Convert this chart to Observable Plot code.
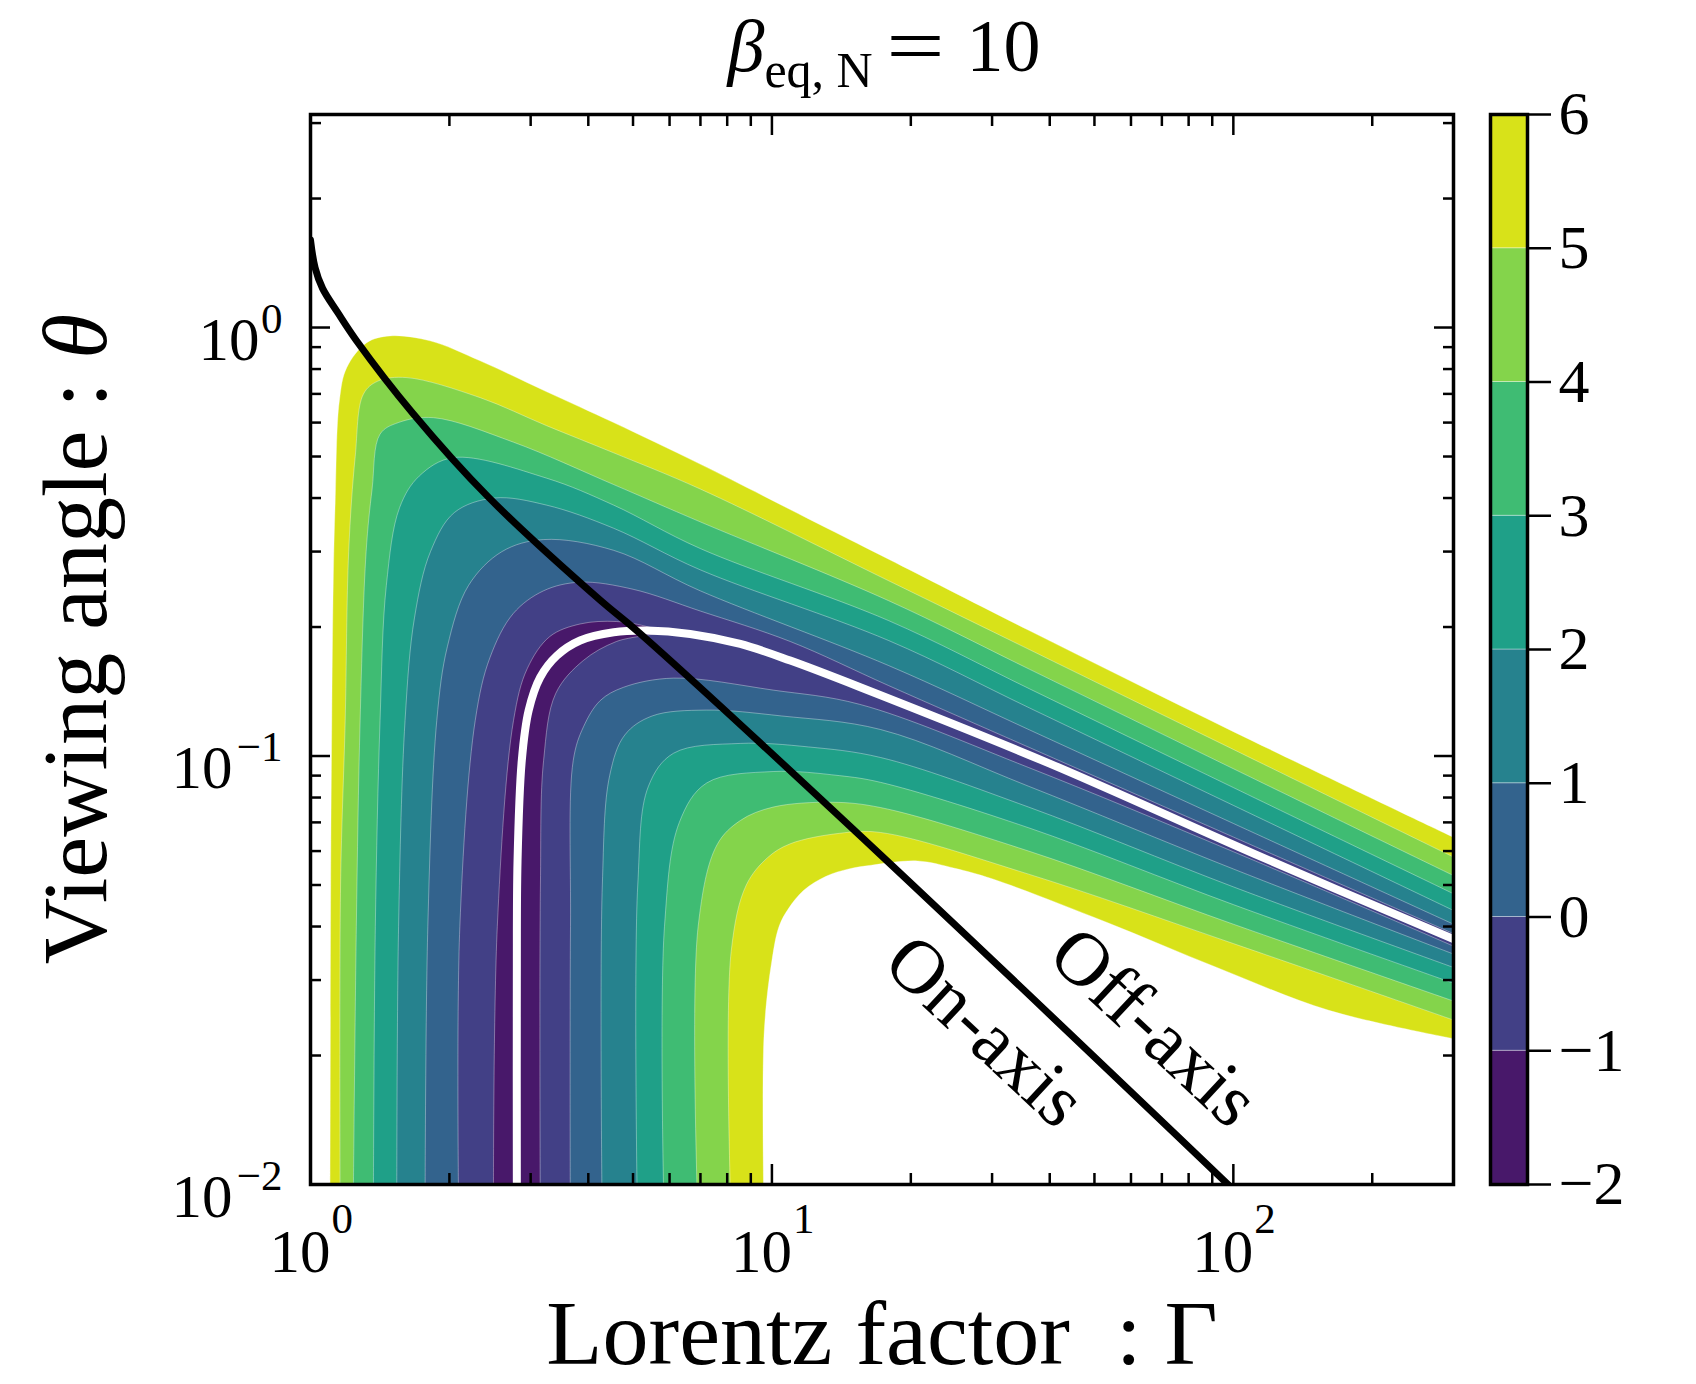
<!DOCTYPE html>
<html>
<head>
<meta charset="utf-8">
<script src="https://cdn.jsdelivr.net/npm/d3@7"></script>
<script src="https://cdn.jsdelivr.net/npm/@observablehq/plot@0.6"></script>
<style>
  body { margin: 0; background: #fff; }
  #wrap { position: relative; width: 1696px; height: 1384px; overflow: hidden;
          font-family: "Liberation Serif", "Times New Roman", serif; color: #000; }
  #wrap svg { position: absolute; top: 0; }
  .lbl { position: absolute; white-space: nowrap; line-height: 1.15; }
</style>
</head>
<body>
<div id="wrap"></div>
<script>
// ---- contour boundaries, [Lorentz factor Γ, viewing angle θ] ----
// outer (upper) branch of each level, from the foot at θ = 0.01 to Γ = 300
const upper6 = [[1.103,0.01],[1.106,0.05],[1.112,0.12],[1.12,0.25],[1.131,0.39],[1.155,0.675],[1.198,0.806],[1.324,0.922],[1.488,0.956],[1.816,0.931],[2.332,0.836],[3.25,0.708],[4.54,0.60],[6.99,0.48],[13.1,0.341],[17.9,0.288],[36.2,0.196],[100,0.114],[300,0.0646]];
const upper5 = [[1.159,0.01],[1.162,0.05],[1.189,0.121],[1.21,0.3],[1.25,0.5],[1.302,0.699],[1.40,0.75],[1.618,0.764],[2.332,0.686],[3.25,0.59],[4.54,0.51],[6.99,0.42],[17.9,0.2565],[36.2,0.177],[100,0.1036],[300,0.0581]];
const upper4 = [[1.239,0.01],[1.257,0.04],[1.281,0.121],[1.32,0.3],[1.36,0.42],[1.415,0.564],[1.55,0.60],[1.847,0.616],[2.754,0.54],[4.54,0.43],[6.99,0.352],[17.9,0.2304],[36.2,0.1593],[100,0.0934],[300,0.0526]];
const upper3 = [[1.369,0.01],[1.382,0.04],[1.415,0.121],[1.46,0.25],[1.56,0.38],[1.72,0.45],[2.04,0.497],[3.25,0.445],[4.54,0.385],[6.99,0.305],[17.9,0.207],[36.2,0.1434],[100,0.0844],[300,0.0477]];
const upper2 = [[1.538,0.01],[1.552,0.04],[1.603,0.121],[1.68,0.21],[1.82,0.30],[2.05,0.37],[2.5,0.40],[3.25,0.385],[4.54,0.34],[6.99,0.272],[17.9,0.186],[36.2,0.1294],[100,0.0767],[300,0.0436]];
const upper1 = [[1.772,0.01],[1.796,0.04],[1.878,0.121],[1.98,0.18],[2.2,0.25],[2.6,0.30],[3.2,0.32],[4.54,0.302],[6.99,0.243],[17.9,0.1626],[36.2,0.115],[100,0.0696],[300,0.0405]];
const upper0 = [[2.092,0.01],[2.107,0.04],[2.275,0.121],[2.45,0.17],[2.75,0.215],[3.2,0.243],[3.84,0.2545],[5.0,0.245],[6.99,0.218],[10.96,0.185],[17.9,0.146],[36.2,0.1046],[100,0.0647],[300,0.0385]];

// inner (lower) branch of each level, from the foot at θ = 0.01 to Γ = 300
const lower0 = [[3.655,0.01],[3.66,0.04],[3.71,0.0976],[3.905,0.117],[4.245,0.1347],[4.77,0.1447],[6.12,0.152],[10.06,0.1425],[15.5,0.132],[36,0.094],[100,0.0598],[300,0.036]];
const lower1 = [[4.28,0.01],[4.29,0.05],[4.45,0.09],[4.8,0.112],[5.5,0.124],[7.2,0.128],[10.5,0.124],[17.2,0.1153],[36,0.085],[100,0.0545],[300,0.0345]];
const lower2 = [[5.10,0.01],[5.12,0.05],[5.4,0.085],[6.12,0.1015],[8.54,0.107],[12,0.105],[17.2,0.0992],[36,0.076],[100,0.0495],[300,0.0321]];
const lower3 = [[5.82,0.01],[5.85,0.04],[6.3,0.07],[7.22,0.0865],[10.06,0.092],[14,0.09],[17.2,0.0868],[36,0.068],[100,0.045],[300,0.0295]];
const lower4 = [[6.88,0.01],[6.92,0.04],[7.6,0.062],[8.54,0.0707],[10.06,0.076],[13.5,0.078],[17.2,0.0758],[36,0.060],[100,0.0405],[300,0.0268]];
const lower5 = [[8.12,0.01],[8.16,0.035],[8.8,0.05],[9.8,0.058],[10.96,0.0624],[14,0.066],[17.2,0.0663],[36,0.053],[100,0.0365],[300,0.0242]];
const lower6 = [[9.59,0.01],[9.62,0.0226],[9.99,0.0331],[10.37,0.0401],[10.87,0.0441],[11.72,0.0486],[13.1,0.0524],[14.67,0.0545],[16.4,0.0556],[20.7,0.0569],[24.9,0.0547],[30,0.0517],[52.6,0.0411],[92.1,0.0321],[161,0.0255],[300,0.0219]];

// closed boundary of the lowest level (−1), wrapped around the valley
const loopM1 = [[2.492,0.01],[2.54,0.04],[2.754,0.121],[2.95,0.16],[3.3,0.19],[3.84,0.2033],[4.6,0.206],[5.4,0.2],[5.7,0.195],[4.6,0.185],[3.9,0.167],[3.4,0.14],[3.2,0.0976],[3.15,0.05],[3.146,0.01]];

// valley curve (white) and on-axis / off-axis boundary (black)
const valleyCurve = [[2.80,0.01],[2.80,0.03],[2.81,0.057],[2.87,0.0976],[2.97,0.1277],[3.147,0.1527],[3.42,0.1715],[3.84,0.186],[4.54,0.1944],[5.36,0.1962],[6.65,0.1927],[8.54,0.1826],[10.96,0.167],[15.54,0.1447],[40,0.096],[111,0.0591],[300,0.0374]];
const axisBoundary = [[1.0,1.60],[1.023,1.38],[1.062,1.234],[1.146,1.083],[1.257,0.933],[1.666,0.631],[2.424,0.403],[4.256,0.2304],[5.13,0.1949],[17.2,0.0588],[97.4,0.01]];

// annotations along the boundary
const boundaryLabels = [
  {g: 29.0, t: 0.0228, s: "On-axis"},
  {g: 67.4, t: 0.0233, s: "Off-axis"}
];

// ticks
const xMajor = [1, 10, 100];
const xExp = ["0", "1", "2"];
const xMinor = [2,3,4,5,6,7,8,9,20,30,40,50,60,70,80,90,200];
const yMajor = [1, 0.1, 0.01];
const yExp = ["0", "\u22121", "\u22122"];
const yMinor = [0.02,0.03,0.04,0.05,0.06,0.07,0.08,0.09,0.2,0.3,0.4,0.5,0.6,0.7,0.8,0.9,2,3];

// colour levels
const levels = [-2, -1, 0, 1, 2, 3, 4, 5, 6];

// ---- drawing ----
const bandColor = i => d3.interpolateViridis((i + 0.5) / (levels.length - 1));
const pts = a => a.map(([g, t]) => ({g, t}));
// closed region between an outer and an inner branch (end points doubled so the
// spline meets the frame edges with straight joins)
function region(up, lo) {
  const u = pts(up), l = pts(lo).reverse();
  return [u[0], ...u, u[u.length - 1], l[0], ...l, l[l.length - 1]];
}
function loop(a) {
  const p = pts(a);
  return [p[0], ...p, p[p.length - 1]];
}

const uppers = {6: upper6, 5: upper5, 4: upper4, 3: upper3, 2: upper2, 1: upper1, 0: upper0};
const lowers = {6: lower6, 5: lower5, 4: lower4, 3: lower3, 2: lower2, 1: lower1, 0: lower0};

const seam = {stroke: "#fff", strokeOpacity: 0.35, strokeWidth: 1};
const bandMarks = [6, 5, 4, 3, 2, 1, 0].map(L =>
  Plot.line(region(uppers[L], lowers[L]), {
    x: "g", y: "t", curve: "catmull-rom", clip: true,
    fill: bandColor(levels.indexOf(L) - 1), ...seam
  })
);
bandMarks.push(Plot.line(loop(loopM1), {
  x: "g", y: "t", curve: "catmull-rom", clip: true, fill: bandColor(0), ...seam
}));

// inward tick marks on all four sides (labels are drawn separately)
const tickBase = {label: null, tickFormat: () => "", stroke: "#000", strokeWidth: 2.5};
const axes = [
  Plot.axisX({...tickBase, anchor: "bottom", ticks: xMajor, tickSize: -20}),
  Plot.axisX({...tickBase, anchor: "bottom", ticks: xMinor, tickSize: -11}),
  Plot.axisX({...tickBase, anchor: "top", ticks: xMajor, tickSize: -20}),
  Plot.axisX({...tickBase, anchor: "top", ticks: xMinor, tickSize: -11}),
  Plot.axisY({...tickBase, anchor: "left", ticks: yMajor, tickSize: -20}),
  Plot.axisY({...tickBase, anchor: "left", ticks: yMinor, tickSize: -11}),
  Plot.axisY({...tickBase, anchor: "right", ticks: yMajor, tickSize: -20}),
  Plot.axisY({...tickBase, anchor: "right", ticks: yMinor, tickSize: -11})
];

const tickLabels = [
  Plot.text(xMajor, {x: d => d, y: 0.01, text: () => "10", textAnchor: "end", lineAnchor: "bottom", dx: 20, dy: 87, fontSize: 61}),
  Plot.text(xMajor, {x: d => d, y: 0.01, text: (d, i) => xExp[i], textAnchor: "start", lineAnchor: "bottom", dx: 21, dy: 48, fontSize: 43}),
  ...yMajor.flatMap((v, i) => {
    const ew = yExp[i].length > 1 ? 50 : 23;
    return [
      Plot.text([v], {x: 1, y: d => d, text: () => "10", textAnchor: "end", lineAnchor: "bottom", dx: -28 - ew, dy: 32, fontSize: 61}),
      Plot.text([v], {x: 1, y: d => d, text: () => yExp[i], textAnchor: "end", lineAnchor: "bottom", dx: -28, dy: 5, fontSize: 43})
    ];
  })
];

const main = Plot.plot({
  width: 1696, height: 1384,
  marginLeft: 310, marginRight: 243, marginTop: 114, marginBottom: 200,
  x: {type: "log", domain: [1, 300]},
  y: {type: "log", domain: [0.01, Math.PI]},
  style: {fontFamily: "'Liberation Serif', serif", background: "transparent", overflow: "visible", color: "#000"},
  marks: [
    ...bandMarks,
    Plot.line(pts(valleyCurve), {x: "g", y: "t", curve: "catmull-rom", stroke: "#fff", strokeWidth: 8, clip: true}),
    Plot.line(pts(axisBoundary), {x: "g", y: "t", curve: "catmull-rom", stroke: "#000", strokeWidth: 7, clip: true}),
    Plot.text(boundaryLabels, {x: "g", y: "t", text: "s", rotate: 43, fontSize: 76, fill: "#000"}),
    ...axes,
    Plot.frame({stroke: "#000", strokeWidth: 3.5}),
    ...tickLabels
  ]
});
main.style.left = "0px";
// the tick-only axes leave empty label nodes behind; drop them
main.querySelectorAll("text").forEach(t => { if (!t.textContent.trim()) t.remove(); });

// colour bar
const cbBands = levels.slice(0, -1).map((lo, i) => ({lo, hi: levels[i + 1], color: bandColor(i)}));
const bar = Plot.plot({
  width: 209, height: 1384,
  marginLeft: 3, marginRight: 169, marginTop: 114, marginBottom: 200,
  x: {domain: [0, 1], axis: null},
  y: {domain: [levels[0], levels[levels.length - 1]]},
  color: {type: "identity"},
  style: {fontFamily: "'Liberation Serif', serif", background: "transparent", overflow: "visible", color: "#000"},
  marks: [
    Plot.rect(cbBands, {x1: 0, x2: 1, y1: "lo", y2: "hi", fill: "color", stroke: "#fff", strokeOpacity: 0.35, strokeWidth: 1}),
    Plot.frame({stroke: "#000", strokeWidth: 3.5}),
    Plot.axisY({anchor: "right", ticks: levels, tickSize: 23, tickPadding: 8, fontSize: 62, label: null, stroke: "#000", strokeWidth: 2.5})
  ]
});
bar.style.left = "1487px";

const wrap = document.getElementById("wrap");
wrap.append(main, bar);

// title and axis titles
wrap.insertAdjacentHTML("beforeend", `
  <div class="lbl" style="left:884px;top:4px;font-size:74px;transform:translateX(-50%)"><i>β</i><span style="font-size:50px;position:relative;top:16px">eq, N</span><span style="display:inline-block;transform:scale(1.4,1.1);margin:0 30px 0 22px">=</span>10</div>
  <div class="lbl" style="left:882px;top:1287px;font-size:92px;line-height:1;transform:translateX(-50%)">Lorentz factor &nbsp;: Γ</div>
  <div class="lbl" style="left:76px;top:639px;font-size:92px;transform:translate(-50%,-50%) rotate(-90deg)">Viewing angle : <i>θ</i></div>
`);
</script>
</body>
</html>
